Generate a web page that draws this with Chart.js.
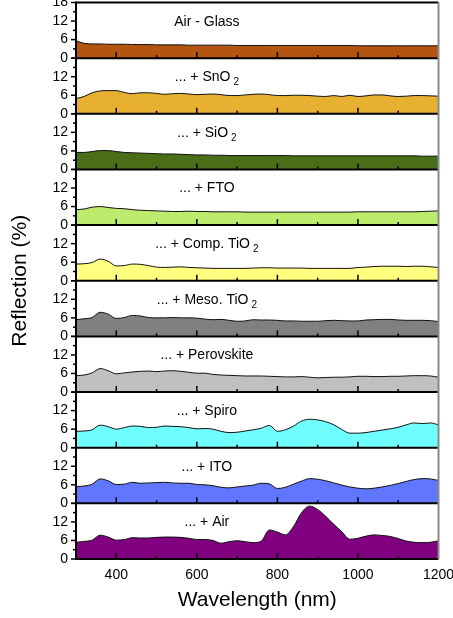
<!DOCTYPE html>
<html>
<head>
<meta charset="utf-8">
<script src="https://cdn.jsdelivr.net/npm/chart.js@4.4.1/dist/chart.umd.min.js"></script>
<style>
  html, body { margin: 0; padding: 0; background: #fff; }
  canvas { display: block; }
</style>
</head>
<body>
<canvas id="chart" width="453" height="618"></canvas>
<script>
// wavelength grid (nm)
const wavelengths = [
  300, 320, 340, 360, 380, 400, 420, 440, 460, 480,
  500, 520, 540, 560, 580, 600, 620, 640, 660, 680,
  700, 720, 740, 760, 780, 800, 820, 840, 860, 880,
  900, 920, 940, 960, 980, 1000, 1020, 1040, 1060, 1080,
  1100, 1120, 1140, 1160, 1180, 1200
];

// reflection (%) for each layer stack, top panel first
const airGlass = [
  5.6, 4.8, 4.6, 4.6, 4.5, 4.5, 4.5, 4.4, 4.4, 4.4,
  4.3, 4.3, 4.3, 4.3, 4.2, 4.2, 4.2, 4.2, 4.2, 4.2,
  4.1, 4.1, 4.1, 4.1, 4.1, 4.1, 4.1, 4.1, 4.1, 4.1,
  4.1, 4.1, 4.1, 4.1, 4.1, 4.0, 4.0, 4.0, 4.0, 4.0,
  4.0, 4.0, 4.0, 4.0, 4.0, 4.0
];
const snO2 = [
  4.9, 5.6, 6.8, 7.4, 7.5, 7.5, 6.9, 6.5, 6.8, 6.8,
  6.6, 6.3, 6.5, 6.6, 6.4, 6.2, 6.3, 6.4, 6.2, 5.9,
  5.9, 6.1, 6.3, 6.4, 6.2, 5.9, 5.9, 6.0, 6.0, 5.9,
  5.7, 5.6, 5.9, 5.6, 6.0, 5.6, 5.8, 6.1, 6.1, 5.8,
  5.6, 5.7, 5.9, 5.9, 5.8, 5.7
];
const siO2 = [
  5.5, 5.5, 5.8, 6.1, 6.1, 5.8, 5.5, 5.4, 5.3, 5.2,
  5.1, 5.0, 5.0, 4.9, 4.8, 4.7, 4.7, 4.6, 4.6, 4.5,
  4.5, 4.5, 4.5, 4.5, 4.5, 4.5, 4.5, 4.4, 4.4, 4.4,
  4.4, 4.4, 4.4, 4.4, 4.4, 4.4, 4.4, 4.4, 4.4, 4.4,
  4.4, 4.4, 4.4, 4.3, 4.3, 4.3
];
const fto = [
  5.0, 5.2, 5.8, 6.0, 5.7, 5.4, 5.3, 5.0, 4.8, 4.7,
  4.6, 4.5, 4.4, 4.4, 4.5, 4.4, 4.4, 4.3, 4.3, 4.3,
  4.3, 4.2, 4.2, 4.2, 4.2, 4.2, 4.2, 4.2, 4.2, 4.2,
  4.2, 4.2, 4.2, 4.2, 4.2, 4.3, 4.3, 4.3, 4.3, 4.3,
  4.3, 4.3, 4.3, 4.4, 4.5, 4.6
];
const compTiO2 = [
  5.4, 5.5, 5.9, 7.0, 6.3, 4.8, 4.9, 5.4, 5.3, 4.9,
  4.4, 4.3, 4.4, 4.5, 4.3, 4.2, 4.1, 4.0, 4.0, 4.0,
  4.0, 4.0, 4.1, 4.2, 4.2, 4.1, 4.1, 4.1, 4.1, 4.0,
  4.0, 4.0, 4.0, 4.0, 4.0, 4.3, 4.4, 4.6, 4.7, 4.7,
  4.7, 4.6, 4.7, 4.7, 4.5, 4.3
];
const mesoTiO2 = [
  5.4, 5.7, 6.1, 7.8, 7.2, 5.8, 6.1, 6.8, 6.6, 6.1,
  6.0, 6.0, 6.1, 6.0, 6.0, 5.9, 5.6, 5.4, 5.5, 5.2,
  4.9, 5.0, 5.4, 5.3, 5.3, 5.2, 5.0, 5.0, 4.9, 4.9,
  4.9, 5.1, 5.2, 5.1, 5.0, 5.0, 5.3, 5.4, 5.5, 5.5,
  5.3, 5.2, 5.2, 5.2, 5.1, 4.8
];
const perovskite = [
  5.3, 5.5, 6.2, 7.6, 6.9, 5.9, 6.2, 6.5, 6.7, 6.8,
  6.6, 6.8, 6.9, 6.7, 6.4, 6.1, 6.1, 5.7, 5.5, 5.4,
  5.3, 5.2, 5.2, 5.2, 5.1, 5.0, 4.9, 4.9, 5.0, 4.8,
  4.6, 4.7, 4.8, 4.8, 4.9, 5.1, 5.1, 5.0, 5.0, 5.1,
  5.1, 5.2, 5.3, 5.3, 5.2, 4.8
];
const spiro = [
  5.3, 5.4, 5.8, 7.3, 6.8, 6.0, 6.5, 7.0, 6.9, 6.5,
  6.6, 7.0, 6.9, 6.8, 6.5, 6.1, 6.2, 6.0, 5.3, 4.9,
  5.0, 5.4, 5.8, 6.3, 7.2, 5.3, 5.8, 7.0, 8.6, 9.2,
  9.0, 8.4, 7.4, 5.9, 4.7, 4.7, 4.9, 5.3, 5.7, 6.1,
  6.6, 7.4, 8.0, 7.8, 8.0, 7.4
];
const ito = [
  5.4, 5.6, 6.2, 7.9, 7.3, 6.1, 6.2, 6.8, 6.5, 6.6,
  6.7, 6.8, 6.6, 6.5, 6.5, 6.1, 6.0, 5.7, 5.2, 5.0,
  5.3, 5.6, 5.9, 6.5, 6.3, 4.8, 5.2, 6.2, 7.2, 8.0,
  7.8, 7.3, 6.6, 5.9, 5.3, 4.9, 4.7, 4.9, 5.3, 5.8,
  6.4, 7.1, 7.7, 8.0, 7.9, 7.4
];
const air = [
  5.4, 5.7, 6.1, 7.7, 7.1, 6.1, 6.3, 6.9, 6.8, 6.8,
  7.0, 7.1, 7.1, 7.0, 6.7, 6.3, 6.3, 6.0, 5.1, 5.6,
  5.9, 5.6, 5.3, 5.8, 9.4, 8.7, 7.8, 10.5, 15.0, 17.1,
  16.0, 13.8, 11.2, 8.8, 6.4, 6.7, 7.4, 7.8, 7.6, 7.3,
  6.6, 5.8, 5.4, 5.3, 5.4, 5.9
];

const series = [airGlass, snO2, siO2, fto, compTiO2, mesoTiO2, perovskite, spiro, ito, air];
// "_" marks the subscript part
const panelLabels = [
  'Air - Glass', '... + SnO_2', '... + SiO_2', '... + FTO', '... + Comp. TiO_2',
  '... + Meso. TiO_2', '... + Perovskite', '... + Spiro', '... + ITO', '... + Air'
];
const panelColors = [
  '#B35410', '#E8B030', '#4A6E18', '#BDEB6E', '#FFFF80',
  '#808080', '#C0C0C0', '#70FFFF', '#6076FF', '#800080'
];
const yTickValues = [0, 6, 12, 18];
const xTickLabels = [400, 600, 800, 1000, 1200];

const FONT = '"Liberation Sans", Arial, sans-serif';

// kill the automatic label overflow padding so the plot area sits where the original does
const noPad = s => { s.paddingLeft = 0; s.paddingRight = 0; s.paddingTop = 0; s.paddingBottom = 0; };

// y scales, added bottom panel first so the first panel ends up on top of the stack
const scales = {
  x: {
    type: 'linear', min: 300, max: 1200,
    grid: { display: false, drawTicks: false },
    border: { display: false },
    ticks: {
      stepSize: 100, autoSkip: false, maxRotation: 0, padding: 8, color: '#000',
      font: { family: FONT, size: 14 },
      callback: v => xTickLabels.includes(v) ? String(v) : ''
    },
    title: {
      display: true, text: 'Wavelength (nm)', color: '#000',
      font: { family: FONT, size: 21 }, padding: { top: 0, bottom: 5 }
    },
    afterFit: s => { s.height = 59; noPad(s); }
  }
};
for (let i = series.length - 1; i >= 0; i--) {
  scales['y' + i] = {
    type: 'linear', position: 'left', stack: 'panels', stackWeight: 1,
    min: 0, max: 18,
    grid: { display: false, drawTicks: false },
    border: { display: false },
    ticks: {
      stepSize: 3, autoSkip: false, padding: 8, color: '#000',
      font: { family: FONT, size: 14 },
      callback: v => (yTickValues.includes(v) && (v < 18 || i === 0)) ? String(v) : ''
    },
    afterFit: s => { s.width = 76; noPad(s); }
  };
}

const datasets = series.map((vals, i) => ({
  label: panelLabels[i],
  data: wavelengths.map((w, k) => ({ x: w, y: vals[k] })),
  yAxisID: 'y' + i,
  backgroundColor: panelColors[i],
  borderColor: '#111',
  borderWidth: 1,
  fill: 'origin',
  pointRadius: 0,
  cubicInterpolationMode: 'monotone'
}));

const panelDecor = {
  id: 'panelDecor',
  afterDatasetsDraw(chart) {
    const { ctx, chartArea: area, scales: sc } = chart;
    const xs = sc.x;
    const seg = (x1, y1, x2, y2) => { ctx.beginPath(); ctx.moveTo(x1, y1); ctx.lineTo(x2, y2); ctx.stroke(); };
    ctx.save();
    ctx.strokeStyle = '#000';
    ctx.fillStyle = '#000';

    series.forEach((_, i) => {
      const ys = sc['y' + i];
      const y0 = ys.getPixelForValue(0);
      ctx.lineWidth = 1.5;
      xs.ticks.forEach(t => {
        if (t.value <= xs.min || t.value >= xs.max) return;
        const px = xs.getPixelForValue(t.value);
        seg(px, y0, px, y0 - (t.value % 200 === 0 ? 6 : 3));
      });
      ys.ticks.forEach(t => {
        const py = ys.getPixelForValue(t.value);
        seg(area.left - (t.value % 6 === 0 ? 5 : 3), py, area.left, py);
      });
      ctx.lineWidth = 2;
      seg(area.left, y0, area.right, y0);

      // panel caption with optional subscript
      const [main, sub] = panelLabels[i].split('_');
      ctx.font = '14px ' + FONT;
      const w1 = ctx.measureText(main).width;
      ctx.font = '10px ' + FONT;
      const w2 = sub ? ctx.measureText(sub).width + 3 : 0;
      const cx = xs.getPixelForValue(625);
      const cy = ys.getPixelForValue(11.8);
      const sx = cx - (w1 + w2) / 2;
      ctx.textAlign = 'left';
      ctx.textBaseline = 'middle';
      ctx.font = '14px ' + FONT;
      ctx.fillText(main, sx, cy);
      if (sub) {
        ctx.font = '10px ' + FONT;
        ctx.fillText(sub, sx + w1 + 3, cy + 5);
      }
    });

    // frame
    const top = sc.y0.getPixelForValue(18);
    const bottom = sc['y' + (series.length - 1)].getPixelForValue(0);
    ctx.lineWidth = 2;
    seg(area.left, top, area.right, top);
    seg(area.left, top - 1, area.left, bottom + 1);
    ctx.strokeStyle = '#8a8a8a';
    seg(area.right, top, area.right, bottom);

    // y axis title
    ctx.translate(20, (top + bottom) / 2);
    ctx.rotate(-Math.PI / 2);
    ctx.textAlign = 'center';
    ctx.textBaseline = 'middle';
    ctx.font = '21px ' + FONT;
    ctx.fillStyle = '#000';
    ctx.fillText('Reflection (%)', 0, 0);
    ctx.restore();
  }
};

new Chart(document.getElementById('chart'), {
  type: 'line',
  data: { datasets },
  options: {
    responsive: false,
    animation: false,
    devicePixelRatio: 1,
    layout: { autoPadding: false, padding: { top: 2.5, right: 14.5, bottom: 0, left: 0 } },
    plugins: { legend: { display: false }, tooltip: { enabled: false } },
    scales
  },
  plugins: [panelDecor]
});
</script>
</body>
</html>
